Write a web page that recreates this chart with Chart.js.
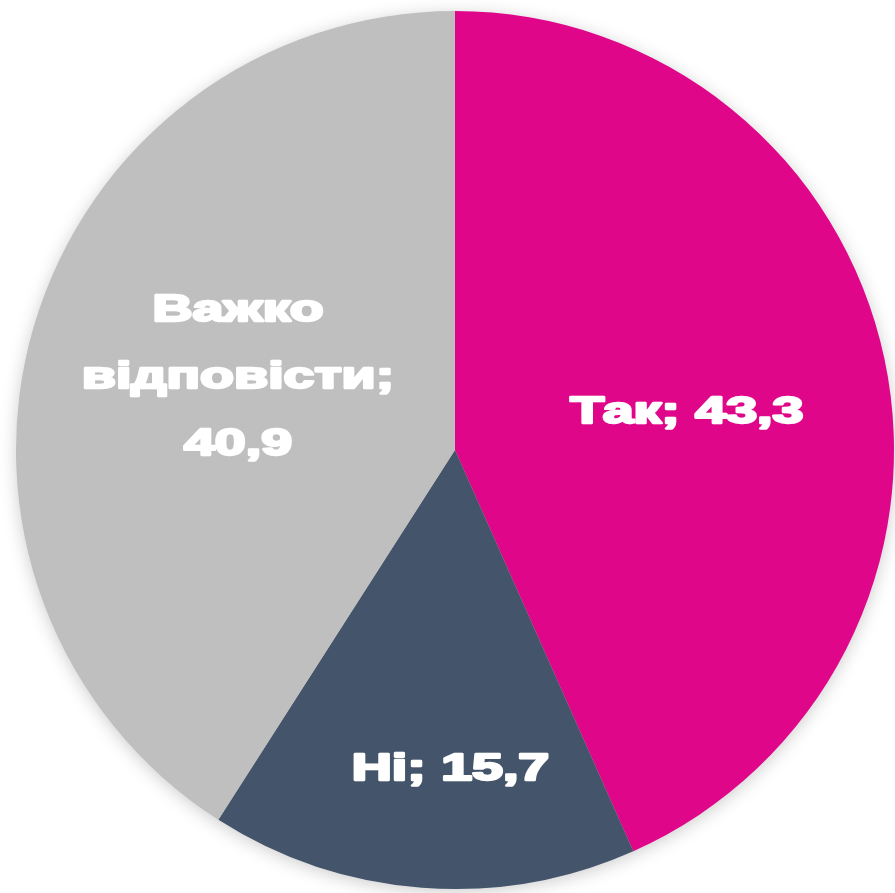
<!DOCTYPE html>
<html>
<head>
<meta charset="utf-8">
<script src="https://cdn.jsdelivr.net/npm/chart.js@4"></script>
<style>
  html, body { margin: 0; padding: 0; background: #ffffff; }
  #wrap { width: 895px; height: 893px; }
</style>
</head>
<body>
<div id="wrap"><canvas id="myChart"></canvas></div>
<script>
var labels = ['Так', 'Ні', 'Важко відповісти'];
var labelLines = [['Так; 43,3'], ['Ні; 15,7'], ['Важко', 'відповісти;', '40,9']];
var values = [43.3, 15.7, 40.9];
var colors = ['#E0068A', '#44546A', '#BFBFBF'];

// where each label sits: fraction of radius along the slice middle, plus a nudge
var labelPlace = [
    { f: 0.535, dx: 2, dy: 12 },
    { f: 0.74, dx: 20, dy: -4 },
    { f: 0.515, dx: 0, dy: -9 }
];

var shadowPlugin = {
    id: 'pieShadow',
    beforeDatasetsDraw: function (chart) {
        var arc = chart.getDatasetMeta(0).data[0];
        var ctx = chart.ctx;
        ctx.save();
        ctx.shadowColor = 'rgba(0,0,0,0.22)';
        ctx.shadowBlur = 18;
        ctx.shadowOffsetY = 3;
        ctx.fillStyle = '#BFBFBF';
        ctx.beginPath();
        ctx.arc(arc.x, arc.y, arc.outerRadius - 1, 0, Math.PI * 2);
        ctx.fill();
        ctx.restore();
    }
};

var labelPlugin = {
    id: 'sliceLabels',
    afterDatasetsDraw: function (chart) {
        var ctx = chart.ctx;
        var meta = chart.getDatasetMeta(0);
        meta.data.forEach(function (arc, i) {
            var mid = (arc.startAngle + arc.endAngle) / 2;
            var p = labelPlace[i];
            var cx = arc.x + Math.cos(mid) * arc.outerRadius * p.f + p.dx;
            var cy = arc.y + Math.sin(mid) * arc.outerRadius * p.f + p.dy;
            var lines = labelLines[i];
            var lh = 67;
            ctx.save();
            ctx.fillStyle = '#ffffff';
            ctx.strokeStyle = '#ffffff';
            ctx.lineWidth = 2.4;
            ctx.lineJoin = 'round';
            ctx.font = 'bold 37px "Liberation Sans", Arial, sans-serif';
            ctx.textAlign = 'center';
            ctx.textBaseline = 'middle';
            lines.forEach(function (t, k) {
                var y = cy + (k - (lines.length - 1) / 2) * lh;
                ctx.save();
                ctx.translate(cx, y);
                ctx.scale(1.5, 1);
                ctx.fillText(t, 0, 0);
                ctx.strokeText(t, 0, 0);
                ctx.restore();
            });
            ctx.restore();
        });
    }
};

const data = {
    labels: labels,
    datasets: [{
        data: values,
        backgroundColor: colors,
        borderWidth: 0
    }]
};

const config = {
    type: 'pie',
    data: data,
    options: {
        responsive: true,
        maintainAspectRatio: false,
        animation: false,
        layout: { padding: { left: 16, right: 1, top: 11, bottom: 4 } },
        plugins: {
            legend: { display: false },
            tooltip: { enabled: false }
        }
    },
    plugins: [shadowPlugin, labelPlugin]
};

const myChart = new Chart(document.getElementById('myChart'), config);
</script>
</body>
</html>
